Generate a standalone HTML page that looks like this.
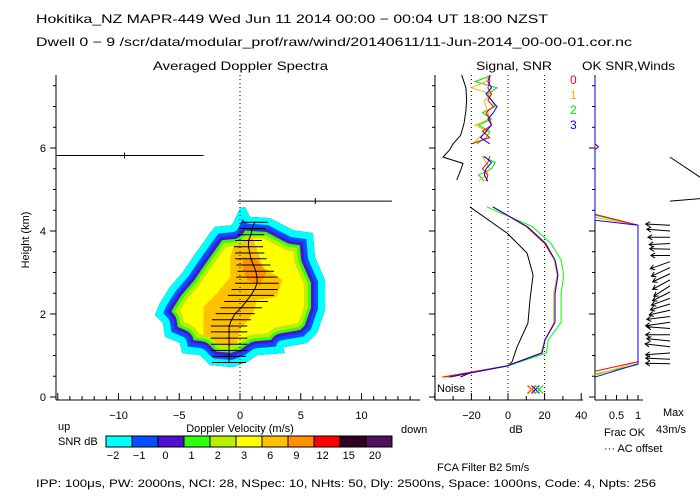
<!DOCTYPE html>
<html><head><meta charset="utf-8"><style>
html,body{margin:0;padding:0;background:#fff}
svg{display:block;font-family:"Liberation Sans",sans-serif;font-size:12px}
</style></head><body>
<svg id="c" width="700" height="500" xmlns="http://www.w3.org/2000/svg">
<rect width="700" height="500" fill="#fff"/>
<text x="36" y="23" textLength="512" lengthAdjust="spacingAndGlyphs">Hokitika_NZ   MAPR-449   Wed Jun 11 2014 00:00 − 00:04 UT 18:00 NZST</text>
<text x="36" y="46" textLength="596" lengthAdjust="spacingAndGlyphs">Dwell  0 −  9   /scr/data/modular_prof/raw/wind/20140611/11-Jun-2014_00-00-01.cor.nc</text>
<text x="153" y="70" textLength="175" lengthAdjust="spacingAndGlyphs">Averaged Doppler Spectra</text>
<text x="476" y="70" textLength="76" lengthAdjust="spacingAndGlyphs">Signal, SNR</text>
<text x="582" y="70" textLength="93" lengthAdjust="spacingAndGlyphs">OK SNR,Winds</text>
<text transform="translate(29,240) rotate(-90)" text-anchor="middle" font-size="11">Height (km)</text>
<text x="240" y="432" text-anchor="middle" font-size="11">Doppler Velocity (m/s)</text>
<text x="58" y="430" font-size="11">up</text>
<text x="401" y="433" font-size="11">down</text>
<text x="58" y="445" font-size="11">SNR dB</text>
<text x="516" y="433" text-anchor="middle" font-size="11">dB</text>
<text x="604" y="436" font-size="11">Frac OK</text>
<text x="604" y="452" font-size="11">··· AC offset</text>
<text x="663" y="416" font-size="11">Max</text>
<text x="656" y="433" font-size="11">43m/s</text>
<text x="437" y="471" font-size="11">FCA Filter B2   5m/s</text>
<text x="36" y="487" textLength="620" lengthAdjust="spacingAndGlyphs" font-size="11">IPP: 100μs,  PW: 2000ns,  NCI:  28,  NSpec: 10, NHts: 50,  Dly: 2500ns,  Space: 1000ns,  Code: 4,  Npts: 256</text>
<text x="437" y="392" font-size="11">Noise</text>
<text x="570" y="84" fill="#ff0000">0</text>
<text x="570" y="99" fill="#ffb000">1</text>
<text x="570" y="114" fill="#00e000">2</text>
<text x="570" y="129" fill="#0000ff">3</text>
<defs><clipPath id="outerClip"><polygon id="clipPoly" points=""/></clipPath></defs>
<g id="g"></g>
</svg>
<script>
// ---- data ----
const outerV = [0.41,0.82,2.47,4.36,6.0,6.17,7.0,7.0,6.34,5.5,3.54,3.7,1.4,0.58,-0.58,-2.47,-3.3,-4.77,-4.94,-6.17,-6.34,-7.0,-6.58,-5.76,-4.7,-3.87,-2.47,-2.06,-0.66,0];
const outerH = [4.58,4.34,4.31,4.02,3.95,3.37,2.82,2.1,1.54,1.3,1.2,1.06,1.01,0.84,0.72,0.77,1.01,1.06,1.3,1.45,1.78,1.98,2.27,2.65,3.01,3.37,3.95,4.1,4.14,4.55];
const goldV = [-0.16,0.82,1.9,3.5,3.0,1.4,1.07,0,-0.25,-1.2,-3.0,-3.0,-1.9,-0.8,-0.8];
const goldH = [3.98,4.02,3.13,2.82,2.41,2.34,2.02,1.61,1.3,1.13,1.3,2.17,2.5,2.89,3.37];
const orangeV = [0.25,1.4,2.2,1.6,0.6,0.25];
const orangeH = [3.37,3.3,3.0,2.7,2.82,3.06];
const meanH = [0.83,0.98,1.12,1.27,1.42,1.57,1.71,1.86,2.01,2.15,2.3,2.45,2.59,2.74,2.89,3.03,3.18,3.33,3.47,3.62,3.77,3.91,4.06,4.21];
const meanV = [-0.9,-0.9,-0.9,-0.9,-0.9,-0.9,-0.9,-0.7,-0.4,0.1,0.5,0.9,1.2,1.4,1.4,1.3,1.1,0.9,0.8,0.7,0.7,0.9,1.0,1.2];
const halfW = [1.4,1.4,1.5,1.5,1.5,1.5,1.5,1.6,1.6,1.7,1.8,1.9,1.9,1.8,1.7,1.5,1.4,1.3,1.2,1.2,1.1,1.1,1.1,1.1];
const outlierH = [5.82,4.72];
const outlierL = [-15.1,-0.2];
const outlierR = [-3,12.5];
const outlierM = [-9.5,6.2];
const snrH = [0.48,0.75,1.06,1.37,1.8,2.5,2.94,3.3,3.7,4.1,4.58];
const snr0 = [-35.5,-0.5,18.6,20.2,25.7,25.7,27.3,25.7,20.2,10.4,-8.2];
const snr1 = [-36.5,-1,18,20,25,25,26.8,25.2,19.8,10,-8.5];
const snr2 = [-33,0,21,22,29,29,30.5,29,23.5,13.5,-11.5];
const snr3 = [-32,-0.5,18.6,20.2,25.7,25.7,27.3,25.7,20.6,10.8,-8.2];
const sigH = [0.48,0.58,0.75,0.85,1.2,1.78,2.34,2.94,3.47,3.95,4.58];
const sigV = [-26,-20.8,0,2.2,4.9,10.9,12,13.7,10.4,-0.5,-20.8];
const upH = [5.2,5.35,5.5,5.65,5.8,5.95,6.1,6.25,6.4,6.55,6.7,6.85,7.0,7.15,7.3,7.45,7.6,7.75];
const up0 = [-12,-11,-14,-11,-10,null,-20,-10,-14,-9,-10,-12,-8,-11,-9,-11,-10,-10];
const up1 = [-16,-12,-10,-12,-14,null,-19,-16,-11,-18,-10,-11,-12,-13,-9,-20,-12,-11];
const up2 = [-13,-16,-9,-7,-14,null,-17,-12,-10,-16,-9,-14,-7,-9,-11,-6,-18,-9];
const up3 = [-11,-13,-12,-9,-13,null,-10,-15,-12,-9,-11,-8,-6,-9,-12,-9,-11,-10];
const noiseUpH = [5.23,5.45,5.63,5.78,5.95,6.1,6.3,6.39,6.6,6.9,7.16,7.45,7.76];
const noiseUpV = [-28,-26,-24.6,-35.5,-32,-30,-26,-25.3,-24,-23,-22.6,-23,-25.3];
const fracH0 = [7.7,4.4,4.14,0.85,0.62];
const frac0 = [0,0,1,1,0];
const fracH1 = [7.7,4.33,4.14,0.85,0.52];
const fracH2 = [7.7,4.38,4.14,0.78,0.55];
const fracH3 = [7.7,6.1,6.03,5.96,4.26,4.14,0.8,0.48];
const frac3 = [0,0,0.08,0,0,1,1,0];
const windH = [4.14,4.0,3.85,3.7,3.56,3.41,3.26,3.12,2.97,2.82,2.68,2.53,2.38,2.24,2.09,1.94,1.8,1.65,1.5,1.35,1.21,1.06,0.91,0.8,5.78,4.72];
const windU = [-42,-40,-38,-36,-35,-33,-34,-32,-30,-30,-28,-30,-32,-34,-36,-40,-42,-40,-42,-40,-43,-42,-42,-42,60,60];
const windW = [2,3,0,-2,1,0,-12,-15,-14,-16,-18,-15,-12,-10,-8,-5,-6,3,0,4,5,-3,2,1,-40,5];
const cbLabels = ['−2','−1','0','1','2','3','6','9','12','15','20'];
const cbColors = ['#00ffff','#0050ff','#5010d0','#30ff10','#b8f000','#ffff00','#ffc000','#ff9000','#ff0000','#300020','#501060'];
const velTicks = [-10,-5,0,5,10];
const hTicks = [0,2,4,6];
const dbTicks = [-20,0,20,40];
const fracTicks = ['0.5','1'];

// ---- scales ----
const yH = h => 397 - h*41.5;
const xV = v => 240 + v*12.15;
const xD = d => 508 + d*1.83;
const xF = f => 595 + f*43;
const NS='http://www.w3.org/2000/svg';
const g=document.getElementById('g');
function mk(t,a){const e=document.createElementNS(NS,t);for(const k in a)e.setAttribute(k,a[k]);g.appendChild(e);return e;}
function poly(xs,ys,fn){const s=[];let cur=[];for(let i=0;i<xs.length;i++){if(xs[i]===null){if(cur.length)s.push(cur);cur=[];}else cur.push(fn(xs[i],ys[i]));}if(cur.length)s.push(cur);return s.map(c=>c.join(' '));}

// contours: outer outline, bands as clipped strokes
const outerPts = outerV.map((v,i)=>xV(v)+','+yH(outerH[i])).join(' ');
document.getElementById('clipPoly').setAttribute('points', outerPts);
let yf=mk('polygon',{points:outerPts,fill:'#ffff00'});


let gp=mk('polygon',{points:goldV.map((v,i)=>xV(v)+','+yH(goldH[i])).join(' '),fill:'#ffc000'});


let op=mk('polygon',{points:orangeV.map((v,i)=>xV(v)+','+yH(orangeH[i])).join(' '),fill:'#ff9000'});


[['#b8f000',42,'snr-contour-2db'],['#30ff10',34,'snr-contour-1db'],['#5010d0',28,'snr-contour-0db'],['#0050ff',22,'snr-contour-m1db'],['#00ffff',14,'snr-contour-m2db']].forEach(b=>{
  const p=mk('polygon',{points:outerPts,fill:'none',stroke:b[0],'stroke-width':b[1],'stroke-linejoin':'round','clip-path':'url(#outerClip)'});
  
  
});

// zero dotted line
let zl=mk('line',{x1:240,y1:75,x2:240,y2:400,stroke:'#000','stroke-dasharray':'1,3'});



// mean bars
meanH.forEach((h,i)=>{
  const b=mk('line',{x1:xV(meanV[i]-halfW[i]),x2:xV(meanV[i]+halfW[i]),y1:yH(h),y2:yH(h),stroke:'#000'});
  
  
});
let ml=mk('polyline',{points:meanH.map((h,i)=>xV(meanV[i])+','+yH(h)).join(' '),fill:'none',stroke:'#000','stroke-width':1});


outlierH.forEach((h,i)=>{
  const b=mk('line',{x1:xV(outlierL[i]),x2:xV(outlierR[i]),y1:yH(h),y2:yH(h),stroke:'#000'});
  
  
  const t=mk('line',{x1:xV(outlierM[i]),x2:xV(outlierM[i]),y1:yH(h)-3,y2:yH(h)+3,stroke:'#000'});
  
  
});

// axes
function axisLine(x1,y1,x2,y2,name){const l=mk('line',{x1,y1,x2,y2,stroke:'#000'});}
axisLine(56,75,56,400,'spectra-y-axis');
axisLine(56,400,420,400,'spectra-x-axis');
axisLine(435,75,435,400,'signal-y-axis');
axisLine(435,400,583,400,'signal-x-axis');
axisLine(595,75,595,400,'frac-y-axis');
axisLine(595,400,643,400,'frac-x-axis');
for(let v=-15;v<=14;v++){const t=mk('line',{x1:xV(v),x2:xV(v),y1:400,y2:v%5===0?393:396,stroke:'#000'});}
for(let d=-40;d<=40;d+=10){const t=mk('line',{x1:xD(d),x2:xD(d),y1:400,y2:d%20===0?393:396,stroke:'#000'});}
for(let f=0;f<=1.001;f+=0.25){const t=mk('line',{x1:xF(f),x2:xF(f),y1:400,y2:395,stroke:'#000'});}
for(let h=0;h<=7.5;h+=0.5){
  const big=Math.abs(h%2)<0.01;
  [56,435,595].forEach(x=>{const t=mk('line',{x1:x-(big?6:3),x2:x,y1:yH(h),y2:yH(h),stroke:'#000'});});
}
function txt(x,y,s,name,anchor,fill){const t=mk('text',{x,y,'text-anchor':anchor||'middle',fill:fill||'#000','font-size':11});t.textContent=s;return t;}
velTicks.forEach(v=>txt(xV(v),419,v<0?'−'+(-v):String(v),'velocity-tick-label'));
hTicks.forEach(h=>txt(46,yH(h)+4,String(h),'height-tick-label','end'));
dbTicks.forEach(d=>txt(xD(d),419,d<0?'−'+(-d):String(d),'db-tick-label'));
fracTicks.forEach(f=>txt(xF(+f),419,f,'frac-tick-label'));

// dotted dB lines
[-20,0,20].forEach(d=>{const l=mk('line',{x1:xD(d),x2:xD(d),y1:75,y2:400,stroke:'#000','stroke-dasharray':'1,3'});});

// signal lines
function line(xs,hs,fx,color,name){poly(xs,hs,(v,h)=>fx(v)+','+yH(h)).forEach(p=>{const l=mk('polyline',{points:p,fill:'none',stroke:color});});}
line(sigV,sigH,xD,'#000','signal-line');
line(noiseUpV,noiseUpH,xD,'#000','signal-line-upper');
line(snr2,snrH,xD,'#00ff00','snr-line-2');
line(snr1,snrH,xD,'#ffb000','snr-line-1');
line(snr0,snrH,xD,'#ff0000','snr-line-0');
line(snr3,snrH,xD,'#0000ff','snr-line-3');
line(up2,upH,xD,'#00e000','snr-upper-2');
line(up1,upH,xD,'#ffb000','snr-upper-1');
line(up0,upH,xD,'#ff0000','snr-upper-0');
line(up3,upH,xD,'#0000ff','snr-upper-3');
[['#ff0000',13],['#ffb000',12.5],['#0000ff',15],['#00e000',17]].forEach(c=>{
  const x=xD(c[1]),y=yH(0.18);
  const p=mk('path',{d:`M${x-4},${y-4}L${x+4},${y+4}M${x-4},${y+4}L${x+4},${y-4}`,stroke:c[0],fill:'none'});
  
  
});

// frac lines
line(frac0,fracH2,xF,'#00ff00','frac-ok-2');
line(frac0,fracH1,xF,'#ffb000','frac-ok-1');
line(frac0,fracH0,xF,'#ff0000','frac-ok-0');
line(frac3,fracH3,xF,'#0000ff','frac-ok-3');

// winds
windH.forEach((h,i)=>{
  const x0=670,y0=yH(h),s=0.58;
  const x1=x0+windU[i]*s,y1=y0-windW[i]*s;
  const a=Math.atan2(y1-y0,x1-x0);
  let d=`M${x0},${y0}L${x1},${y1}`;
  if(windU[i]<0){
    const l=5;
    d+=`M${x1+l*Math.cos(a+2.6)},${y1+l*Math.sin(a+2.6)}L${x1},${y1}L${x1+l*Math.cos(a-2.6)},${y1+l*Math.sin(a-2.6)}`;
  }
  const p=mk('path',{d,stroke:'#000',fill:'none'});
  
  
});

// colorbar
cbColors.forEach((c,i)=>{
  const r=mk('rect',{x:106+i*26,y:436,width:26,height:11,fill:c,stroke:'#000'});
  
  
  txt(113+i*26.2,459,cbLabels[i],'colorbar-label');
});
</script>
</body></html>
